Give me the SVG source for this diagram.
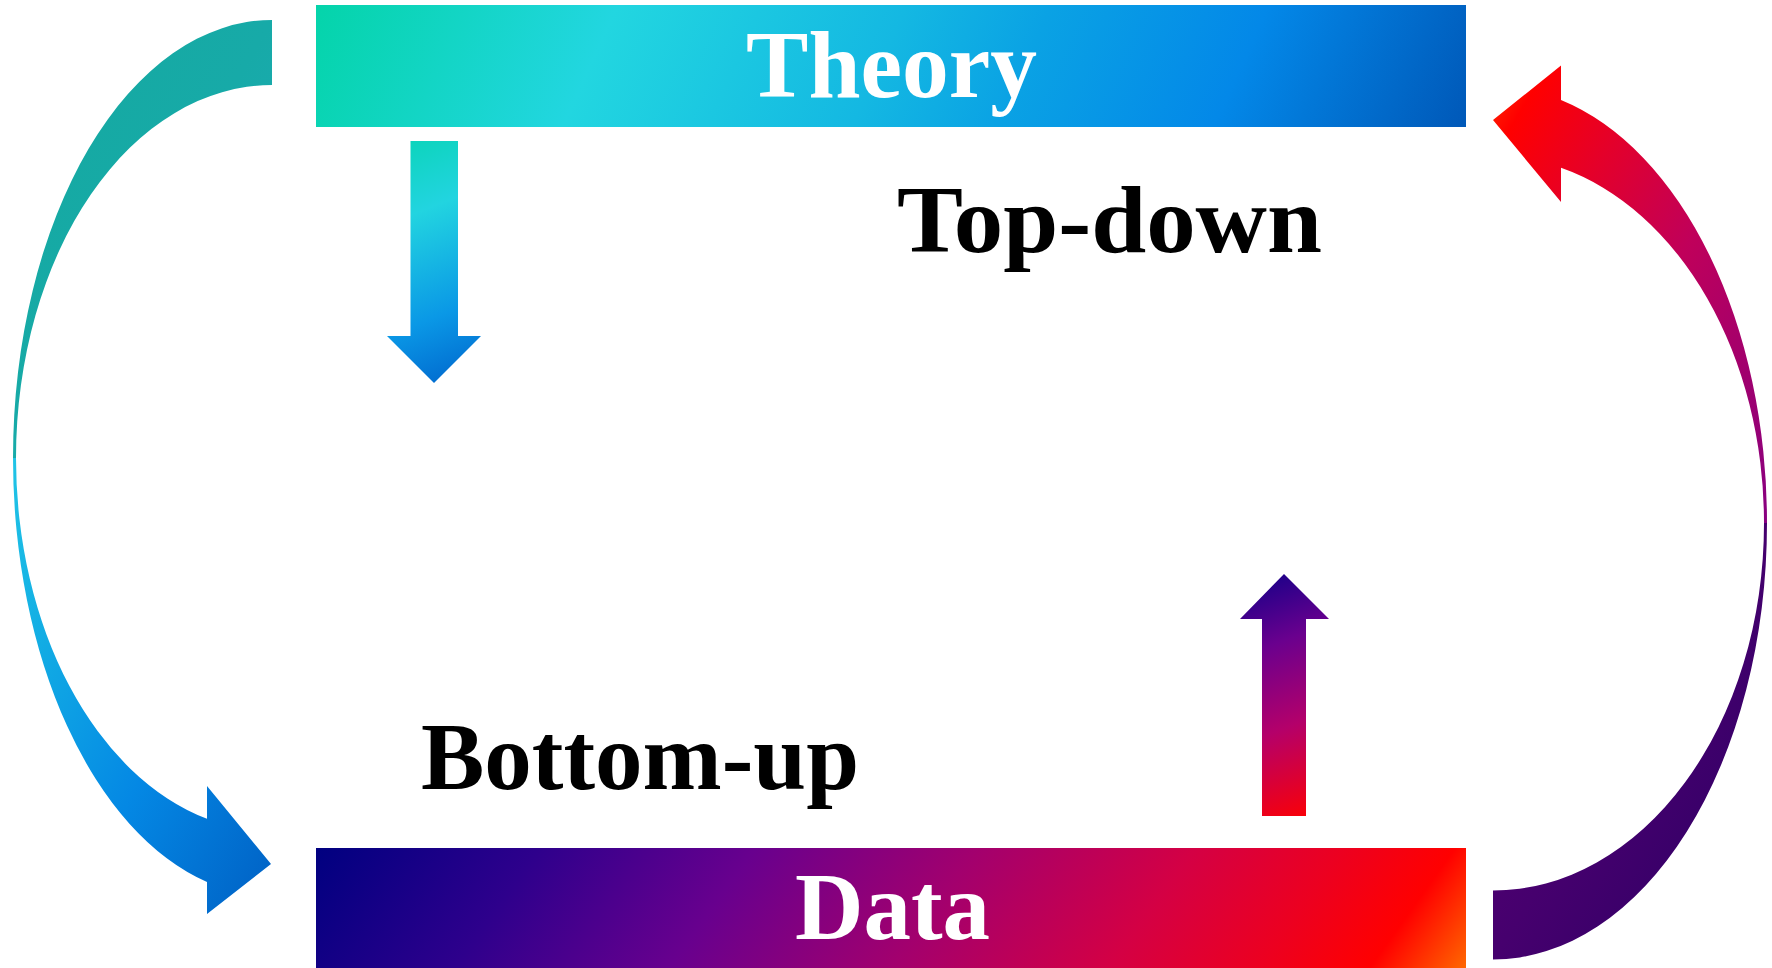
<svg xmlns="http://www.w3.org/2000/svg" width="1772" height="968" viewBox="0 0 1772 968">
<style>
  .lbl { font-family: "Liberation Serif", "Times New Roman", serif; font-size: 95px; font-weight: bold; }
  .white { fill: #ffffff; }
  .black { fill: #000000; }
</style>
<defs>
  <linearGradient id="gTheory" gradientUnits="userSpaceOnUse" x1="316" y1="5" x2="1318" y2="457">
    <stop offset="0" stop-color="#04d4aa"/>
    <stop offset="0.25" stop-color="#22d6e0"/>
    <stop offset="0.49" stop-color="#14b8e2"/>
    <stop offset="0.61" stop-color="#0aa2e4"/>
    <stop offset="0.79" stop-color="#0388e8"/>
    <stop offset="1" stop-color="#0058b8"/>
  </linearGradient>
  <linearGradient id="gData" gradientUnits="userSpaceOnUse" x1="316" y1="848" x2="1135" y2="1434">
    <stop offset="0" stop-color="#000080"/>
    <stop offset="0.18" stop-color="#2e008c"/>
    <stop offset="0.355" stop-color="#68008e"/>
    <stop offset="0.533" stop-color="#a2006e"/>
    <stop offset="0.71" stop-color="#d40044"/>
    <stop offset="0.83" stop-color="#ec0020"/>
    <stop offset="0.92" stop-color="#ff0000"/>
    <stop offset="1" stop-color="#ff6a00"/>
  </linearGradient>
  <linearGradient id="gDown" gradientUnits="userSpaceOnUse" x1="386" y1="141" x2="481" y2="383">
    <stop offset="0" stop-color="#0ad4b8"/>
    <stop offset="0.3" stop-color="#22d4e0"/>
    <stop offset="0.7" stop-color="#0a98e6"/>
    <stop offset="1" stop-color="#0064cc"/>
  </linearGradient>
  <linearGradient id="gUp" gradientUnits="userSpaceOnUse" x1="1240" y1="574" x2="1329" y2="816">
    <stop offset="0" stop-color="#100088"/>
    <stop offset="0.3" stop-color="#6a008e"/>
    <stop offset="0.62" stop-color="#b4006a"/>
    <stop offset="1" stop-color="#ff0000"/>
  </linearGradient>
  <linearGradient id="gLeftTop" x1="0" y1="0" x2="1" y2="1">
    <stop offset="0" stop-color="#14a99e"/>
    <stop offset="0.5" stop-color="#17aaa8"/>
    <stop offset="1" stop-color="#20acbc"/>
  </linearGradient>
  <linearGradient id="gLeftBot" x1="0" y1="0" x2="1" y2="1">
    <stop offset="0" stop-color="#20c4e6"/>
    <stop offset="0.25" stop-color="#12ade4"/>
    <stop offset="0.6" stop-color="#0488e4"/>
    <stop offset="1" stop-color="#0060c4"/>
  </linearGradient>
  <linearGradient id="gRightTop" x1="0" y1="0" x2="1" y2="1">
    <stop offset="0" stop-color="#ff3000"/>
    <stop offset="0.1" stop-color="#ff0000"/>
    <stop offset="0.3" stop-color="#e4002a"/>
    <stop offset="0.55" stop-color="#c0005a"/>
    <stop offset="0.8" stop-color="#a0006e"/>
    <stop offset="1" stop-color="#880080"/>
  </linearGradient>
  <linearGradient id="gRightBot" x1="0" y1="0" x2="1" y2="1">
    <stop offset="0" stop-color="#5a0074"/>
    <stop offset="0.5" stop-color="#46006e"/>
    <stop offset="1" stop-color="#2a0064"/>
  </linearGradient>
</defs>
<rect width="1772" height="968" fill="#ffffff"/>

<g id="theory">
  <rect x="316" y="5" width="1150" height="122" fill="url(#gTheory)"/>
  <text class="lbl white" x="746" y="96.5" textLength="291" lengthAdjust="spacingAndGlyphs">Theory</text>
</g>

<g id="data">
  <rect x="316" y="848" width="1150" height="120" fill="url(#gData)"/>
  <text class="lbl white" x="795" y="939" textLength="195" lengthAdjust="spacingAndGlyphs">Data</text>
</g>

<g id="label-topdown">
  <text class="lbl black" x="897" y="251.5" textLength="425" lengthAdjust="spacingAndGlyphs">Top-down</text>
</g>

<g id="label-bottomup">
  <text class="lbl black" x="421" y="789" textLength="438" lengthAdjust="spacingAndGlyphs">Bottom-up</text>
</g>

<g id="connectors">
  <path id="arrow-down" d="M410.5 141 L458 141 L458 336 L481 336 L434 383 L387 336 L410.5 336 Z" fill="url(#gDown)"/>
  <path id="arrow-up" d="M1262 816 L1306 816 L1306 619 L1329 619 L1284 574 L1240 619 L1262 619 Z" fill="url(#gUp)"/>
  <g id="arrow-left">
    <path d="M272 20 A259 438 0 0 0 13 458 L16 458 A256 373 0 0 1 272 85 Z" fill="url(#gLeftTop)"/>
    <path d="M13 458 A259 438 0 0 0 207 882 L207 914 L271 864 L207 786 L207 818.8 A256 373 0 0 1 16 458 Z" fill="url(#gLeftBot)"/>
  </g>
  <g id="arrow-right">
    <path d="M1767 523 A274 436.5 0 0 0 1561 100 L1561 65.5 L1493 120 L1561 202 L1561 167.8 A271 367 0 0 1 1764 523 Z" fill="url(#gRightTop)"/>
    <path d="M1493 959.5 A274 436.5 0 0 0 1767 523 L1764 523 A271 367 0 0 1 1493 890.5 Z" fill="url(#gRightBot)"/>
  </g>
</g>
</svg>
